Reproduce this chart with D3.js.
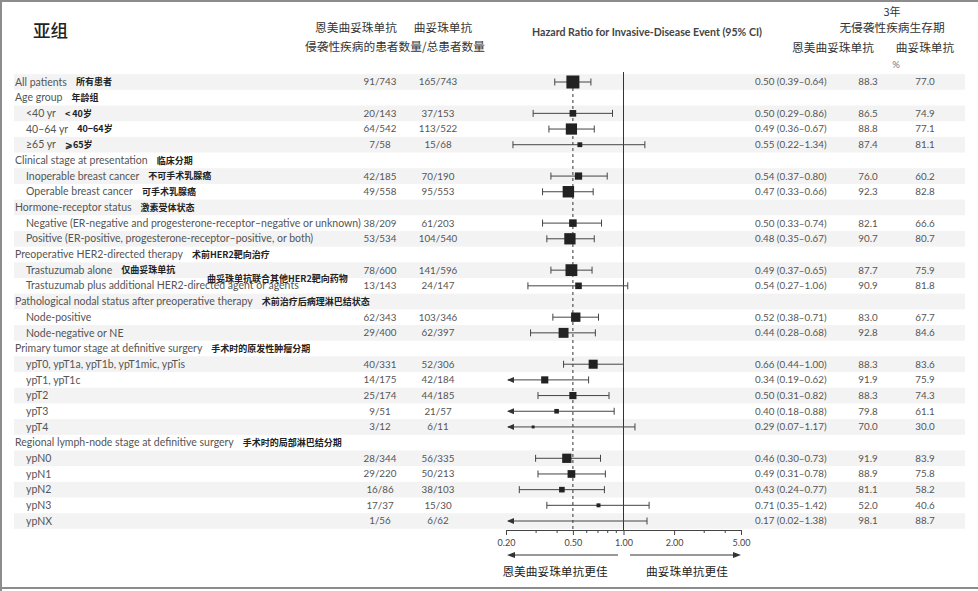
<!DOCTYPE html>
<html>
<head>
<meta charset="utf-8">
<script src="https://cdn.jsdelivr.net/npm/d3@7"></script>
<style>
  body { margin: 0; background: #fff; }
  svg { display: block; }
</style>
</head>
<body>
<div id="chart"></div>
<script>
// forest plot, subgroup analysis of invasive-disease events

const width = 978, height = 591;

// ---- data ----
const labels = [
  "All patients", "Age group", "<40 yr", "40\u201364 yr", "\u226565 yr",
  "Clinical stage at presentation", "Inoperable breast cancer", "Operable breast cancer",
  "Hormone-receptor status",
  "Negative (ER-negative and progesterone-receptor\u2013negative or unknown)",
  "Positive (ER-positive, progesterone-receptor\u2013positive, or both)",
  "Preoperative HER2-directed therapy", "Trastuzumab alone",
  "Trastuzumab plus additional HER2-directed agent or agents",
  "Pathological nodal status after preoperative therapy", "Node-positive", "Node-negative or NE",
  "Primary tumor stage at definitive surgery",
  "ypT0, ypT1a, ypT1b, ypT1mic, ypTis", "ypT1, ypT1c", "ypT2", "ypT3", "ypT4",
  "Regional lymph-node stage at definitive surgery",
  "ypN0", "ypN1", "ypN2", "ypN3", "ypNX"
];
const labelsZh = [
  "所有患者", "年龄组", "< 40岁", "40\u221264岁", "\u2a7e65岁",
  "临床分期", "不可手术乳腺癌", "可手术乳腺癌",
  "激素受体状态", "", "",
  "术前HER2靶向治疗", "仅曲妥珠单抗", "曲妥珠单抗联合其他HER2靶向药物",
  "术前治疗后病理淋巴结状态", "", "",
  "手术时的原发性肿瘤分期", "", "", "", "", "",
  "手术时的局部淋巴结分期", "", "", "", "", ""
];
// true = group heading (no estimate)
const isGroup = [
  false, true, false, false, false,
  true, false, false,
  true, false, false,
  true, false, false,
  true, false, false,
  true, false, false, false, false, false,
  true, false, false, false, false, false
];
const tdm1Events = [
  "91/743", null, "20/143", "64/542", "7/58",
  null, "42/185", "49/558",
  null, "38/209", "53/534",
  null, "78/600", "13/143",
  null, "62/343", "29/400",
  null, "40/331", "14/175", "25/174", "9/51", "3/12",
  null, "28/344", "29/220", "16/86", "17/37", "1/56"
];
const trasEvents = [
  "165/743", null, "37/153", "113/522", "15/68",
  null, "70/190", "95/553",
  null, "61/203", "104/540",
  null, "141/596", "24/147",
  null, "103/346", "62/397",
  null, "52/306", "42/184", "44/185", "21/57", "6/11",
  null, "56/335", "50/213", "38/103", "15/30", "6/62"
];
const hr = [
  0.50, null, 0.50, 0.49, 0.55,
  null, 0.54, 0.47,
  null, 0.50, 0.48,
  null, 0.49, 0.54,
  null, 0.52, 0.44,
  null, 0.66, 0.34, 0.50, 0.40, 0.29,
  null, 0.46, 0.49, 0.43, 0.71, 0.17
];
const ciLow = [
  0.39, null, 0.29, 0.36, 0.22,
  null, 0.37, 0.33,
  null, 0.33, 0.35,
  null, 0.37, 0.27,
  null, 0.38, 0.28,
  null, 0.44, 0.19, 0.31, 0.18, 0.07,
  null, 0.30, 0.31, 0.24, 0.35, 0.02
];
const ciHigh = [
  0.64, null, 0.86, 0.67, 1.34,
  null, 0.80, 0.66,
  null, 0.74, 0.67,
  null, 0.65, 1.06,
  null, 0.71, 0.68,
  null, 1.00, 0.62, 0.82, 0.88, 1.17,
  null, 0.73, 0.78, 0.77, 1.42, 1.38
];
const idfsTdm1 = [
  "88.3", null, "86.5", "88.8", "87.4",
  null, "76.0", "92.3",
  null, "82.1", "90.7",
  null, "87.7", "90.9",
  null, "83.0", "92.8",
  null, "88.3", "91.9", "88.3", "79.8", "70.0",
  null, "91.9", "88.9", "81.1", "52.0", "98.1"
];
const idfsTras = [
  "77.0", null, "74.9", "77.1", "81.1",
  null, "60.2", "82.8",
  null, "66.6", "80.7",
  null, "75.9", "81.8",
  null, "67.7", "84.6",
  null, "83.6", "75.9", "74.3", "61.1", "30.0",
  null, "83.9", "75.8", "58.2", "40.6", "88.7"
];
const majorTicks = [0.2, 0.5, 1, 2, 5];
const minorTicks = [0.3, 0.4, 0.6, 0.7, 0.8, 0.9, 3, 4];

// ---- rows ----
const total = (s) => s ? +s.split("/")[1] : 0;
const rows = labels.map((label, i) => ({
  i: i,
  label: label,
  zh: labelsZh[i],
  group: isGroup[i],
  a: tdm1Events[i],
  b: trasEvents[i],
  hr: hr[i], lo: ciLow[i], hi: ciHigh[i],
  pa: idfsTdm1[i], pb: idfsTras[i],
  n: total(tdm1Events[i]) + total(trasEvents[i])
}));

const fmt = d3.format(".2f");
const latin = "Lato, 'Open Sans', sans-serif";
const cjk = "'Noto Sans CJK SC', sans-serif";
const grey = "#555";

const svg = d3.select("#chart").append("svg")
  .attr("width", width)
  .attr("height", height)
  .attr("viewBox", [0, 0, width, height]);

// scales
const y = d3.scalePoint()
  .domain(rows.map(d => d.i))
  .range([82, 521]);
const rowH = y.step();

const x = d3.scaleLog()
  .domain([0.2, 5])
  .range([506, 741]);

const boxSize = d3.scaleSqrt()
  .domain([0, d3.max(rows, d => d.n)])
  .range([1.5, 13]);

const axisY = 530;

// frame
svg.append("path")
  .attr("d", `M1,${height} V1 H${width}`)
  .attr("fill", "none").attr("stroke", "#8c8c8c").attr("stroke-width", 2);
svg.append("line")
  .attr("x1", 0).attr("x2", width).attr("y1", 588).attr("y2", 588)
  .attr("stroke", "#8c8c8c").attr("stroke-width", 2);

// stripes
svg.append("g").selectAll("rect")
  .data(rows.filter(d => d.i % 2 === 0))
  .join("rect")
  .attr("x", 14)
  .attr("width", 951)
  .attr("y", d => y(d.i) - rowH / 2)
  .attr("height", rowH)
  .attr("fill", "#f3f3f3");

// ---- headers ----
const head = svg.append("g").attr("font-family", cjk).attr("fill", "#333");
head.append("text").attr("x", 33).attr("y", 37)
  .attr("font-size", 17.5).attr("font-weight", 500).attr("fill", "#222").text("亚组");
head.append("text").attr("x", 356).attr("y", 32).attr("text-anchor", "middle")
  .attr("font-size", 11.7).text("恩美曲妥珠单抗");
head.append("text").attr("x", 443).attr("y", 32).attr("text-anchor", "middle")
  .attr("font-size", 11.7).text("曲妥珠单抗");
head.append("text").attr("x", 395).attr("y", 51).attr("text-anchor", "middle")
  .attr("font-size", 11.7).text("侵袭性疾病的患者数量/总患者数量");
head.append("text").attr("x", 892).attr("y", 16).attr("text-anchor", "middle")
  .attr("font-size", 11).text("3年");
head.append("text").attr("x", 892).attr("y", 32).attr("text-anchor", "middle")
  .attr("font-size", 11.7).text("无侵袭性疾病生存期");
head.append("text").attr("x", 833).attr("y", 52).attr("text-anchor", "middle")
  .attr("font-size", 11.7).text("恩美曲妥珠单抗");
head.append("text").attr("x", 925).attr("y", 52).attr("text-anchor", "middle")
  .attr("font-size", 11.7).text("曲妥珠单抗");
svg.append("text").attr("x", 896).attr("y", 68).attr("text-anchor", "middle")
  .attr("font-family", latin).attr("font-size", 9.5).attr("fill", "#777").text("%");
svg.append("text").attr("x", 647).attr("y", 36).attr("text-anchor", "middle")
  .attr("font-family", latin).attr("font-size", 10.6).attr("font-weight", "bold")
  .attr("fill", "#444").text("Hazard Ratio for Invasive-Disease Event (95% CI)");

// ---- left labels ----
const labelG = svg.append("g");
rows.forEach(d => {
  const lx = d.group || d.i === 0 ? 15 : 26;
  const t = labelG.append("text")
    .attr("x", lx)
    .attr("y", y(d.i))
    .attr("dy", "0.35em")
    .attr("font-family", latin)
    .attr("font-size", 10.5)
    .attr("fill", grey)
    .text(d.label);
  if (d.zh) {
    const w = t.node().getComputedTextLength();
    // the combination-therapy note sits above its row in the source
    const zx = d.i === 13 ? 207 : lx + w + 9;
    const zy = d.i === 13 ? y(d.i) - 7 : y(d.i);
    labelG.append("text")
      .attr("x", zx)
      .attr("y", zy)
      .attr("dy", "0.35em")
      .attr("font-family", cjk)
      .attr("font-size", 9)
      .attr("font-weight", "bold")
      .attr("fill", "#222")
      .text(d.zh);
  }
});

// ---- number columns ----
const data = rows.filter(d => !d.group);
const numCol = (xPos, anchor, fn) => svg.append("g").selectAll("text")
  .data(data)
  .join("text")
  .attr("x", xPos)
  .attr("y", d => y(d.i))
  .attr("dy", "0.35em")
  .attr("text-anchor", anchor)
  .attr("font-family", latin)
  .attr("font-size", 9.8)
  .attr("fill", grey)
  .text(fn);

numCol(380, "middle", d => d.a);
numCol(438, "middle", d => d.b);
numCol(755, "start", d => `${fmt(d.hr)} (${fmt(d.lo)}\u2013${fmt(d.hi)})`);
numCol(868, "middle", d => d.pa);
numCol(925, "middle", d => d.pb);

// ---- forest plot ----
const plot = svg.append("g");

// no-effect line and overall estimate
plot.append("line")
  .attr("x1", x(1)).attr("x2", x(1))
  .attr("y1", 72).attr("y2", axisY)
  .attr("stroke", "#333").attr("stroke-width", 1);
plot.append("line")
  .attr("x1", x(rows[0].hr)).attr("x2", x(rows[0].hr))
  .attr("y1", y(0)).attr("y2", axisY)
  .attr("stroke", "#333").attr("stroke-width", 1)
  .attr("stroke-dasharray", "3,3");

const clamp = v => Math.max(0.2, Math.min(5, v));

const ci = plot.append("g").attr("stroke", "#444").attr("stroke-width", 1);
data.forEach(d => {
  const cy = y(d.i);
  const x0 = x(clamp(d.lo)), x1 = x(clamp(d.hi));
  const off = d.lo < 0.2;
  ci.append("line")
    .attr("x1", off ? x0 + 2 : x0).attr("x2", x1)
    .attr("y1", cy).attr("y2", cy);
  ci.append("line")
    .attr("x1", x1).attr("x2", x1)
    .attr("y1", cy - 3.5).attr("y2", cy + 3.5);
  if (off) {
    plot.append("path")
      .attr("d", `M${x0 + 1},${cy} l7,-3 v6 z`)
      .attr("fill", "#333");
  } else {
    ci.append("line")
      .attr("x1", x0).attr("x2", x0)
      .attr("y1", cy - 3.5).attr("y2", cy + 3.5);
  }
});

plot.append("g").selectAll("rect")
  .data(data.filter(d => d.hr >= 0.2))
  .join("rect")
  .attr("x", d => x(d.hr) - boxSize(d.n) / 2)
  .attr("y", d => y(d.i) - boxSize(d.n) / 2)
  .attr("width", d => boxSize(d.n))
  .attr("height", d => boxSize(d.n))
  .attr("fill", "#222");

// axis
const axisG = svg.append("g")
  .attr("transform", `translate(0,${axisY})`)
  .call(d3.axisBottom(x)
    .tickValues(majorTicks)
    .tickFormat(fmt)
    .tickSize(5)
    .tickSizeOuter(0));
axisG.select(".domain").attr("stroke", "#444");
axisG.selectAll(".tick line").attr("stroke", "#444");
axisG.selectAll(".tick text")
  .attr("font-family", latin).attr("font-size", 9).attr("fill", "#444").attr("dy", "0.9em");

const minorG = svg.append("g")
  .attr("transform", `translate(0,${axisY})`)
  .call(d3.axisBottom(x).tickValues(minorTicks).tickFormat("").tickSize(3).tickSizeOuter(0));
minorG.select(".domain").remove();
minorG.selectAll(".tick line").attr("stroke", "#444");

// favour arrows
const arrowY = 555;
const arrows = svg.append("g").attr("stroke", "#333").attr("fill", "#333");
arrows.append("line").attr("x1", 618).attr("x2", x(0.2) + 6).attr("y1", arrowY).attr("y2", arrowY);
arrows.append("path").attr("d", `M${x(0.2) + 1},${arrowY} l8,-3 v6 z`).attr("stroke", "none");
arrows.append("line").attr("x1", 630).attr("x2", x(5) - 6).attr("y1", arrowY).attr("y2", arrowY);
arrows.append("path").attr("d", `M${x(5)},${arrowY} l-8,-3 v6 z`).attr("stroke", "none");

svg.append("text").attr("x", 555).attr("y", 576).attr("text-anchor", "middle")
  .attr("font-family", cjk).attr("font-size", 11.7).attr("fill", "#222").text("恩美曲妥珠单抗更佳");
svg.append("text").attr("x", 687).attr("y", 576).attr("text-anchor", "middle")
  .attr("font-family", cjk).attr("font-size", 11.7).attr("fill", "#222").text("曲妥珠单抗更佳");
</script>
</body>
</html>
